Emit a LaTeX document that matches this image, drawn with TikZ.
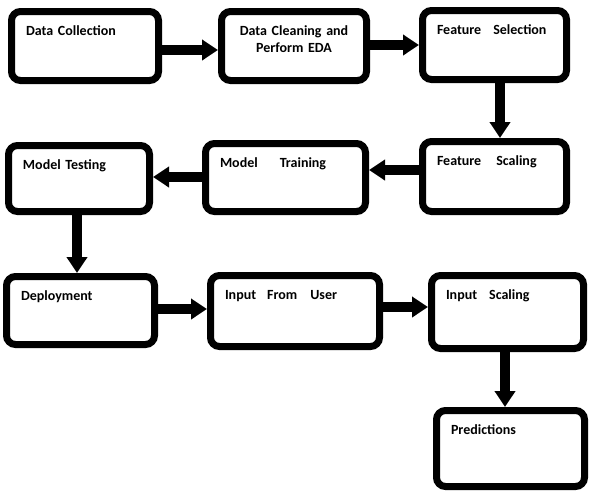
\documentclass[tikz,border=0pt]{standalone}
\usepackage{fontspec}
\setmainfont{Carlito}
\usetikzlibrary{arrows.meta}

\begin{document}
\begin{tikzpicture}[x=1pt,y=1pt,
  every node/.style={draw,rectangle,rounded corners=9pt,line width=7pt,outer sep=3.5pt,
    inner xsep=14.5pt,inner ysep=0pt,text height=23.5pt,align=left,anchor=north west,
    font=\fontsize{14}{17}\selectfont\bfseries},
  box/.code 2 args={\pgfmathsetmacro\bw{#1-7}\pgfmathsetmacro\bh{#2-7}%
    \pgfmathsetmacro\tw{#1-36}\pgfmathsetmacro\td{#2-30.5}%
    \edef\boxkeys{\noexpand\pgfkeysalso{minimum width=\bw pt,minimum height=\bh pt,
      text width=\tw pt,text depth=\td pt}}\boxkeys},
  arr/.style={line width=10pt,-{Triangle[length=16pt,width=20pt]}}]
  \useasboundingbox (0,0) rectangle (603,-501);

  \node[box={154}{76}] (dc) at (8,-8) {Data Collection};
  \node[box={152}{76},align=center] (dcl) at (218,-8) {Data Cleaning and\\Perform EDA};
  \node[box={151}{76}] (fsel) at (419,-7) {Feature\hspace{12pt}Selection};
  \node[box={151}{77}] (fsc) at (419,-138) {Feature\hspace{15pt}Scaling};
  \node[box={167}{75}] (mtr) at (202,-140) {Model\hspace{22pt}Training};
  \node[box={148}{73}] (mte) at (5,-142) {Model Testing};
  \node[box={155}{75}] (dep) at (3,-273) {Deployment};
  \node[box={176}{78}] (ifu) at (207,-272) {Input\hspace{11pt}From\hspace{13pt}User};
  \node[box={159}{80}] (isc) at (428,-272) {Input\hspace{12pt}Scaling};
  \node[box={155}{83}] (pred) at (433,-407) {Predictions};

  \draw[arr] ([yshift=-4pt]dc.east) -- ([yshift=-4pt]dcl.west);
  \draw[arr] ([yshift=1pt]dcl.east) -- (fsel.west);
  \draw[arr] ([xshift=5.5pt]fsel.south) -- ([xshift=5.5pt]fsc.north);
  \draw[arr] ([yshift=6.5pt]fsc.west) -- ([yshift=7.5pt]mtr.east);
  \draw[arr] ([yshift=0.5pt]mtr.west) -- ([yshift=1.5pt]mte.east);
  \draw[arr] ([xshift=-2pt]mte.south) -- ([xshift=-3.5pt]dep.north);
  \draw[arr] ([yshift=1.5pt]dep.east) -- ([yshift=2pt]ifu.west);
  \draw[arr] ([yshift=4pt]ifu.east) -- ([yshift=5pt]isc.west);
  \draw[arr] ([xshift=-2.5pt]isc.south) -- ([xshift=-5.5pt]pred.north);
\end{tikzpicture}
\end{document}
